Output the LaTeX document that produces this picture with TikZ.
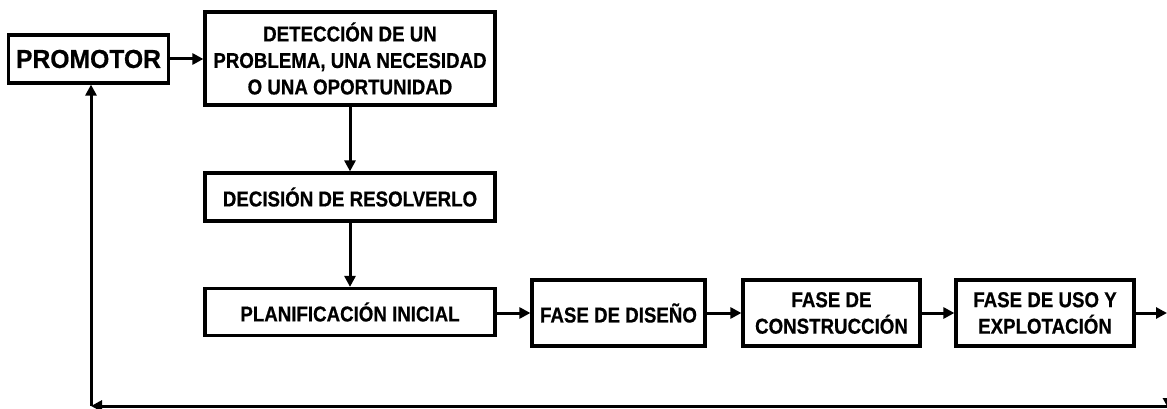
\documentclass[tikz,border=0pt]{standalone}
\usepackage{fontspec}
\setmainfont{Liberation Sans}
\newfontfamily\boxfont{Liberation Sans}[BoldFeatures={FakeStretch=0.87,FakeBold=0.6}]
\newfontfamily\promfont{Liberation Sans}[BoldFeatures={FakeStretch=0.95,FakeBold=0.6}]
\usetikzlibrary{arrows.meta}
\begin{document}
\begin{tikzpicture}[x=1pt,y=-1pt,
  box/.style={draw,line width=3.2pt,inner sep=0pt,align=center,
    font=\boxfont\bfseries\fontsize{21.5}{26.5}\selectfont},
  conn/.style={line width=3pt,-{Triangle[length=11pt,width=11pt]}}]
\fill[white] (0,0) rectangle (1167,409);
\useasboundingbox (0,0) rectangle (1167,409);
\node[box,minimum width=160pt,minimum height=48pt,font=\promfont\bfseries\fontsize{26}{30}\selectfont] (prom) at (88.5,59) {PROMOTOR};
\node[box,minimum width=290pt,minimum height=93pt] (det) at (350,58.5) {DETECCIÓN DE UN\\PROBLEMA, UNA NECESIDAD\\O UNA OPORTUNIDAD};
\node[box,minimum width=290pt,minimum height=48pt] (dec) at (350,197) {DECISIÓN DE RESOLVERLO};
\node[box,minimum width=290pt,minimum height=47pt] (plan) at (350,312) {PLANIFICACIÓN INICIAL};
\node[box,minimum width=173pt,minimum height=66pt] (dis) at (618.5,313) {FASE DE DISEÑO};
\node[box,minimum width=177pt,minimum height=66pt] (con) at (831.5,313) {FASE DE\\CONSTRUCCIÓN};
\node[box,minimum width=178pt,minimum height=66pt] (uso) at (1045,313) {FASE DE USO Y\\EXPLOTACIÓN};
\coordinate (r1) at (1168.5,313);
\coordinate (r2) at (1168.5,406);
\coordinate (l1) at (91,406);
\draw[conn] (prom.east) -- (prom.east -| det.west);
\draw[conn] (det.south) -- (dec.north);
\draw[conn] (dec.south) -- (plan.north);
\draw[conn] (plan.east |- dis.west) -- (dis.west);
\draw[conn] (dis.east) -- (con.west);
\draw[conn] (con.east) -- (uso.west);
\draw[conn] (uso.east) -- ([xshift=-1.5pt]r1);
\draw[conn] (r1) -- ([yshift=-3pt]r2);
\draw[conn] ([xshift=-2pt]r2) -- (l1);
\draw[conn] (l1) -- (l1 |- prom.south);
\end{tikzpicture}
\end{document}
